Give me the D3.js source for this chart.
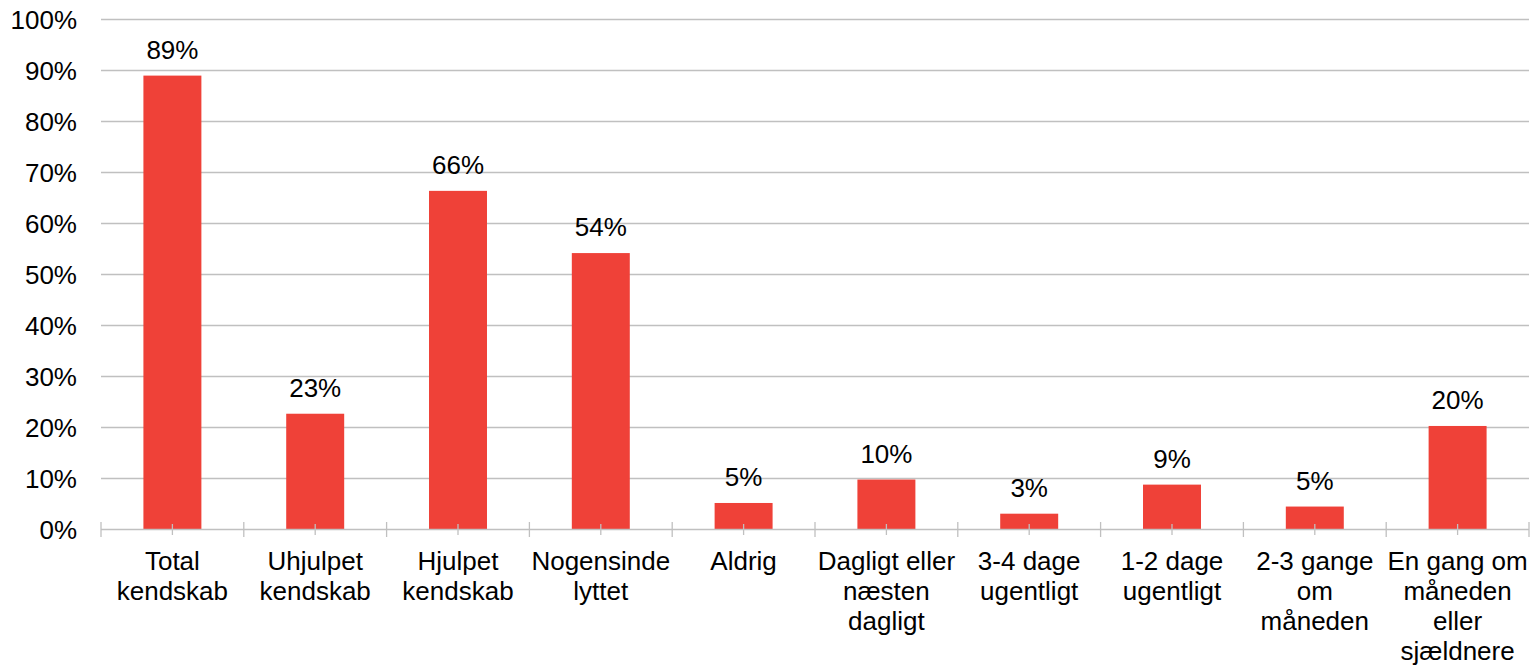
<!DOCTYPE html>
<html>
<head>
<meta charset="utf-8">
<script src="https://cdn.jsdelivr.net/npm/d3@7"></script>
<style>
  body { margin: 0; background: #fff; }
  svg text { font-family: "Liberation Sans", Arial, sans-serif; fill: #000; }
</style>
</head>
<body>
<svg width="1537" height="667"></svg>
<script>
var categories = ['Total kendskab', 'Uhjulpet kendskab', 'Hjulpet kendskab', 'Nogensinde lyttet',
  'Aldrig', 'Dagligt eller næsten dagligt', '3-4 dage ugentligt', '1-2 dage ugentligt',
  '2-3 gange om måneden', 'En gang om måneden eller sjældnere'];
var values = [89, 22.7, 66.4, 54.2, 5.2, 9.8, 3.1, 8.8, 4.5, 20.3];
var valueLabels = ['89%', '23%', '66%', '54%', '5%', '10%', '3%', '9%', '5%', '20%'];
var yTicks = [0, 10, 20, 30, 40, 50, 60, 70, 80, 90, 100];

var svg = d3.select('svg');
var plotLeft = 101, plotRight = 1529, plotTop = 19.5, plotBottom = 529.5;
var gridColor = '#c0c0c0';
var fontSize = 26;

var x = d3.scaleBand()
  .domain(categories)
  .range([plotLeft, plotRight])
  .paddingInner(0.594)
  .paddingOuter(0.297);

var y = d3.scaleLinear().domain([0, 100]).range([plotBottom, plotTop]);

// gridlines
svg.append('g')
  .selectAll('line')
  .data(yTicks.filter(function(d) { return d > 0; }))
  .enter()
  .append('line')
  .attr('x1', plotLeft)
  .attr('x2', plotRight)
  .attr('y1', function(d) { return y(d); })
  .attr('y2', function(d) { return y(d); })
  .attr('stroke', gridColor)
  .attr('stroke-width', 1.3);

// y labels
svg.append('g')
  .selectAll('text')
  .data(yTicks)
  .enter()
  .append('text')
  .attr('x', 77)
  .attr('y', function(d) { return y(d); })
  .attr('dy', '0.35em')
  .attr('text-anchor', 'end')
  .attr('font-size', fontSize)
  .text(function(d) { return d + '%'; });

// bars
svg.append('g')
  .selectAll('rect')
  .data(values)
  .enter()
  .append('rect')
  .attr('x', function(d, i) { return x(categories[i]); })
  .attr('width', x.bandwidth())
  .attr('y', function(d) { return y(d); })
  .attr('height', function(d) { return plotBottom - y(d); })
  .attr('fill', '#ef4138');

// value labels
svg.append('g')
  .selectAll('text')
  .data(values)
  .enter()
  .append('text')
  .attr('x', function(d, i) { return x(categories[i]) + x.bandwidth() / 2; })
  .attr('y', function(d) { return y(d) - 17; })
  .attr('text-anchor', 'middle')
  .attr('font-size', fontSize)
  .text(function(d, i) { return valueLabels[i]; });

// x axis line and ticks
var axis = svg.append('g');
axis.append('line')
  .attr('x1', plotLeft).attr('x2', plotRight)
  .attr('y1', plotBottom).attr('y2', plotBottom)
  .attr('stroke', gridColor)
  .attr('stroke-width', 1.3);

var step = x.step();
axis.selectAll('line.bound')
  .data(d3.range(categories.length + 1))
  .enter()
  .append('line')
  .attr('class', 'bound')
  .attr('x1', function(i) { return plotLeft + i * step; })
  .attr('x2', function(i) { return plotLeft + i * step; })
  .attr('y1', 522).attr('y2', 537)
  .attr('stroke', gridColor)
  .attr('stroke-width', 1.3);

axis.selectAll('line.center')
  .data(categories)
  .enter()
  .append('line')
  .attr('class', 'center')
  .attr('x1', function(d) { return x(d) + x.bandwidth() / 2; })
  .attr('x2', function(d) { return x(d) + x.bandwidth() / 2; })
  .attr('y1', 524).attr('y2', 535)
  .attr('stroke', gridColor)
  .attr('stroke-width', 1.3);

// category labels, wrapped to band width
var labels = axis.selectAll('text')
  .data(categories)
  .enter()
  .append('text')
  .attr('text-anchor', 'middle')
  .attr('font-size', fontSize)
  .attr('x', function(d) { return x(d) + x.bandwidth() / 2; })
  .attr('y', 570);

labels.each(function(d) {
  var text = d3.select(this);
  var cx = +text.attr('x');
  var words = d.split(' ');
  var lines = [];
  var line = [];
  var tspan = text.append('tspan').attr('x', cx);
  words.forEach(function(w) {
    line.push(w);
    tspan.text(line.join(' '));
    if (tspan.node().getComputedTextLength() > step - 1 && line.length > 1) {
      line.pop();
      lines.push(line.join(' '));
      line = [w];
    }
  });
  lines.push(line.join(' '));
  tspan.remove();
  lines.forEach(function(l, i) {
    text.append('tspan')
      .attr('x', cx)
      .attr('y', 570 + i * 30)
      .text(l);
  });
});
</script>
</body>
</html>
